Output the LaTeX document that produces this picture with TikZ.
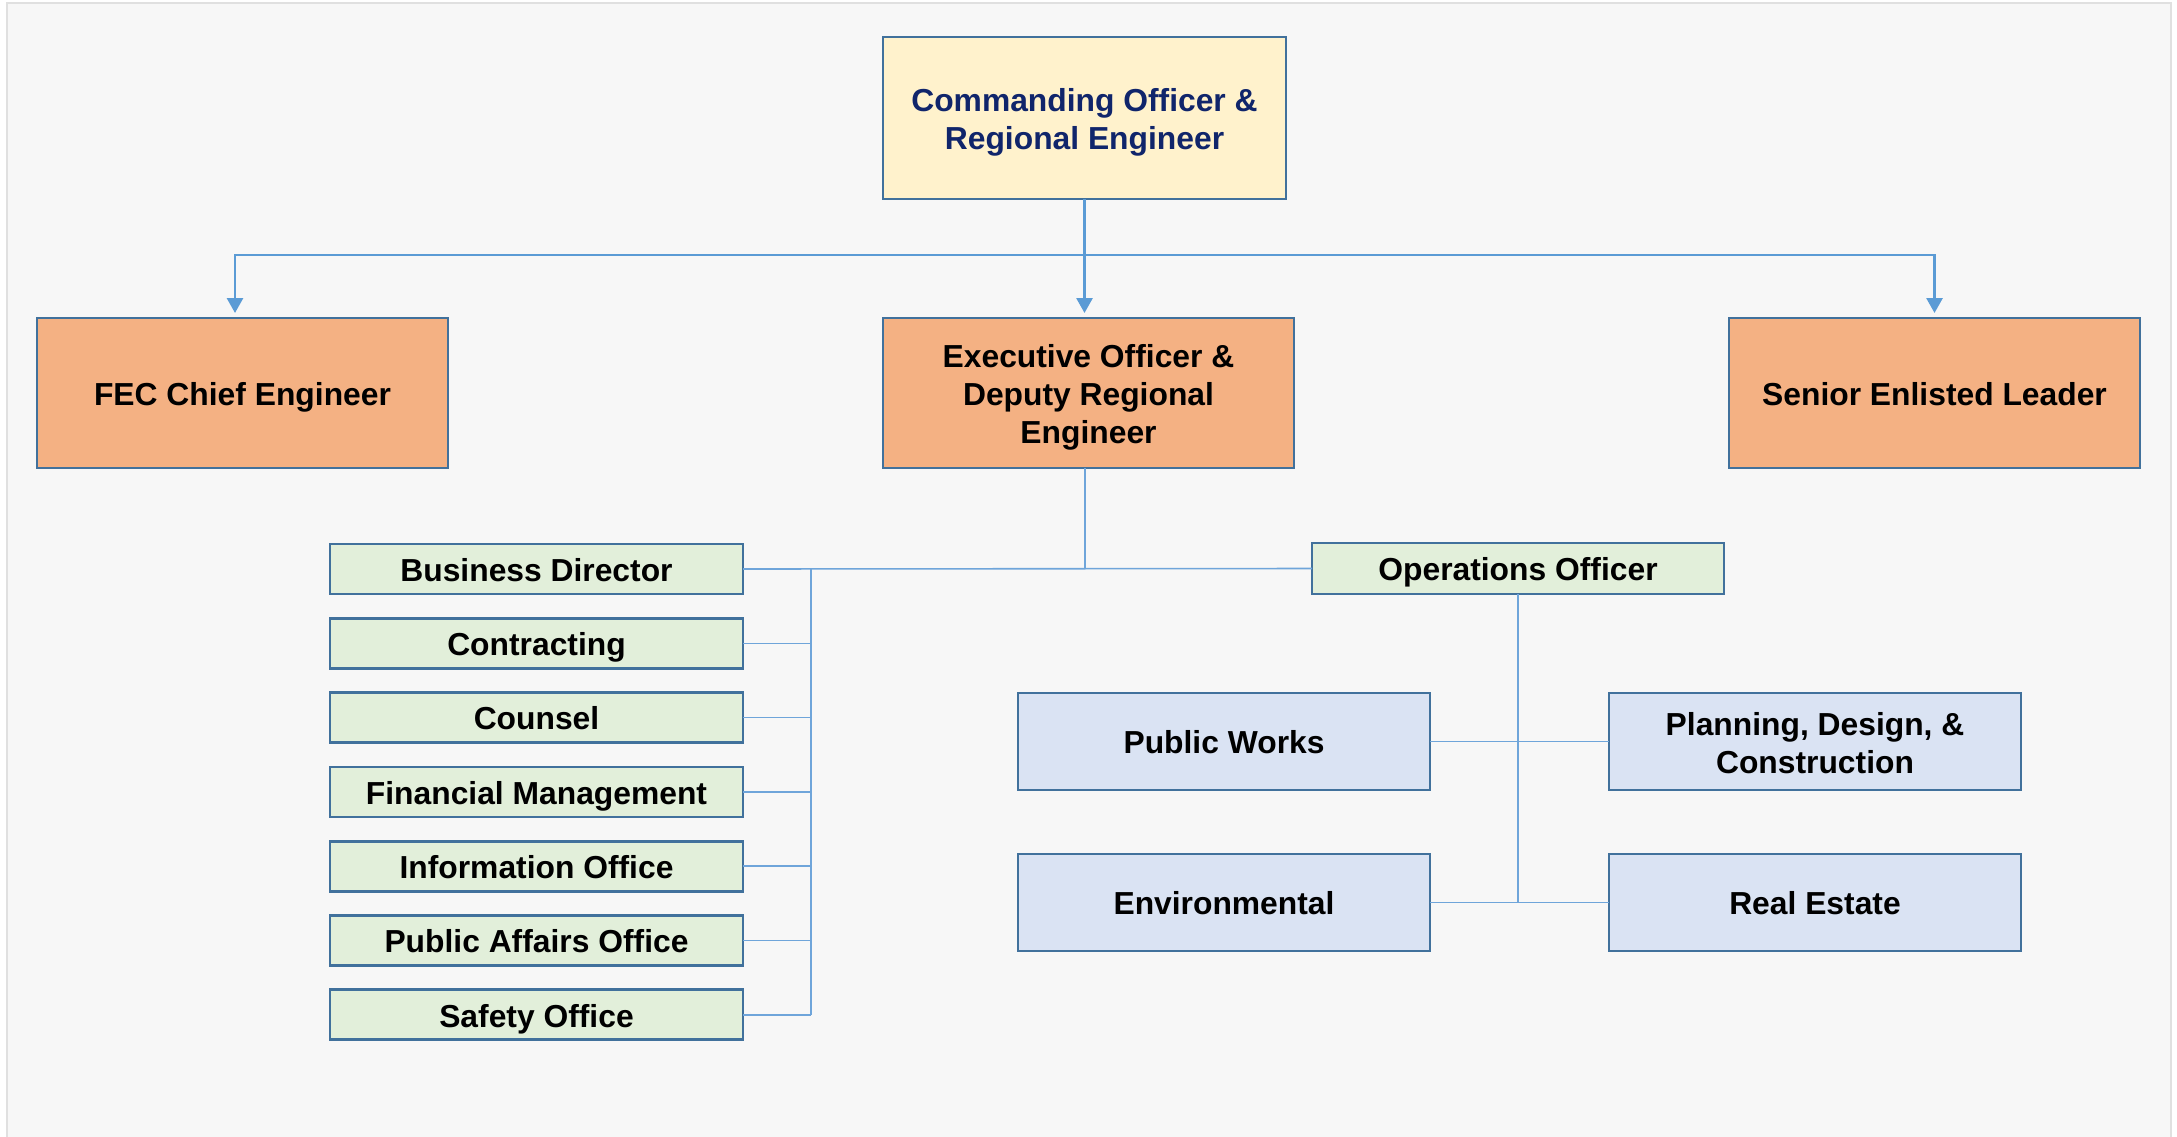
\documentclass[tikz,border=0pt]{standalone}
\usepackage{fontspec}
\setmainfont{Liberation Sans}
\usetikzlibrary{arrows.meta}
\definecolor{bgcol}{HTML}{F7F7F7}
\definecolor{edgecol}{HTML}{41719C}
\definecolor{linkcol}{HTML}{5B9BD5}
\definecolor{thincol}{HTML}{6FA5DA}
\definecolor{cofill}{HTML}{FFF2CC}
\definecolor{cotext}{HTML}{10256B}
\definecolor{orgfill}{HTML}{F4B183}
\definecolor{grnfill}{HTML}{E2EFDA}
\definecolor{blufill}{HTML}{DAE3F3}
\tikzset{
  unitbox/.style={draw=edgecol, line width=0.8pt, inner sep=0pt, outer sep=0pt,
    align=center, font=\fontsize{9.05}{10.8}\selectfont\bfseries},
  oneline/.style={text height=0.72em, text depth=0.02em},
  boxtext/.style={unitbox, draw=none},
  topbox/.style={unitbox, fill=cofill, text=cotext, minimum width=4.03cm, minimum height=1.62cm},
  headbox/.style={unitbox, fill=orgfill, minimum width=4.11cm, minimum height=1.50cm},
  staffbox/.style={unitbox, oneline, fill=grnfill, minimum width=4.13cm, minimum height=0.50cm},
  deptbox/.style={unitbox, fill=blufill, minimum width=4.12cm, minimum height=0.97cm},
  arrowline/.style={draw=linkcol, line width=0.8pt, shorten >=0.05cm,
    -{Triangle[width=0.16cm, length=0.15cm]}},
  thinline/.style={draw=thincol, line width=0.45pt}
}

\begin{document}
\begin{tikzpicture}
		%%%%% START %%%%%
		\useasboundingbox (0, 0) rectangle (21.77, 11.36);
		\fill[white] (0, 0) rectangle (21.77, 11.36);
		\draw[fill=bgcol, draw=black!12] (0.07, -0.1) rectangle (21.71, 11.33);
		
		% command level
		\node[topbox] (co) at (10.845, 10.18) {};
		\node[boxtext, text=cotext] (cotxt) at (10.845, 10.14) {Commanding Officer \&\\Regional Engineer};
		
		\node[headbox, oneline] (fec) at (2.425, 7.43) {FEC Chief Engineer};
		\node[headbox] (xo) at (10.885, 7.43) {};
		\node[boxtext] (xotxt) at (10.885, 7.39) {Executive Officer \&\\Deputy Regional\\Engineer};
		\node[headbox, oneline] (sel) at (19.345, 7.43) {Senior Enlisted Leader};
		
		\coordinate (split) at (10.845, 8.81);
		\draw[draw=linkcol, line width=0.8pt] (co.south) -- (split);
		\draw[arrowline] (split) -- (split |- xo.north);
		\draw[arrowline] (split) -| ([xshift=-0.075cm]fec.north);
		\draw[arrowline] (split) -| (sel.north);
		
		% special staff
		\node[staffbox] (bd) at (5.365, 5.67) {Business Director};
		\node[staffbox] (ct) at (5.365, 4.927) {Contracting};
		\node[staffbox] (cn) at (5.365, 4.184) {Counsel};
		\node[staffbox] (fm) at (5.365, 3.441) {Financial Management};
		\node[staffbox] (io) at (5.365, 2.698) {Information Office};
		\node[staffbox] (pao) at (5.365, 1.955) {Public Affairs Office};
		\node[staffbox] (so) at (5.365, 1.212) {Safety Office};
		
		\node[staffbox, minimum width=4.12cm, minimum height=0.51cm] (oo) at (15.18, 5.675) {Operations Officer};
		
		\coordinate (xojoin) at (10.85, 5.67);
		\coordinate (bustop) at (8.11, 5.67);
		\coordinate (busbot) at (8.11, 1.212);
		\draw[thinline] (xo.south -| xojoin) -- (xojoin);
		\draw[thinline] (bd.east) -- (oo.west);
		\draw[thinline] (bustop) -- (busbot);
		\draw[thinline] (ct.east) -- (ct.east -| bustop);
		\draw[thinline] (cn.east) -- (cn.east -| bustop);
		\draw[thinline] (fm.east) -- (fm.east -| bustop);
		\draw[thinline] (io.east) -- (io.east -| bustop);
		\draw[thinline] (pao.east) -- (pao.east -| bustop);
		\draw[thinline] (so.east) -- (busbot);
		
		% operations
		\node[deptbox, oneline] (pw) at (12.24, 3.945) {Public Works};
		\node[deptbox] (pdc) at (18.15, 3.945) {};
		\node[boxtext] (pdctxt) at (18.15, 3.93) {Planning, Design, \&\\Construction};
		\node[deptbox, oneline] (env) at (12.24, 2.335) {Environmental};
		\node[deptbox, oneline] (re) at (18.15, 2.335) {Real Estate};
		
		\coordinate (opsbot) at (15.18, 2.335);
		\draw[thinline] (oo.south) -- (opsbot);
		\draw[thinline] (pw.east) -- (pdc.west);
		\draw[thinline] (env.east) -- (re.west);
		%%%%% END %%%%%
	\end{tikzpicture}
\end{document}
